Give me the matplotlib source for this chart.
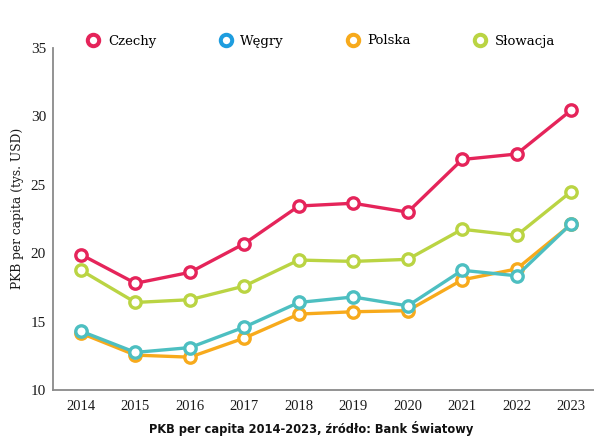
import matplotlib
matplotlib.use("Agg")
import matplotlib.pyplot as plt
from matplotlib.lines import Line2D
from matplotlib import font_manager
from matplotlib.font_manager import FontProperties

years = [2014, 2015, 2016, 2017, 2018, 2019, 2020, 2021, 2022, 2023]
czechy = [19.9, 17.8, 18.6, 20.7, 23.45, 23.65, 23.0, 26.85, 27.25, 30.45]
wegry = [14.3, 12.75, 13.1, 14.6, 16.4, 16.8, 16.15, 18.75, 18.35, 22.15]
polska = [14.15, 12.55, 12.4, 13.8, 15.55, 15.72, 15.8, 18.05, 18.85, 22.1]
slowacja = [18.75, 16.4, 16.6, 17.6, 19.5, 19.4, 19.55, 21.75, 21.3, 24.5]
yticks = [10, 15, 20, 25, 30, 35]
labels = ["Czechy", "Węgry", "Polska", "Słowacja"]
title = "PKB per capita 2014-2023, źródło: Bank Światowy"

c_cz = "#e5245a"
c_hu_line = "#4dbfc1"
c_hu_leg = "#1e9ddf"
c_pl = "#f7aa1c"
c_sk = "#bad443"

# pick the most condensed bold sans available for the caption
stretch_rank = {"ultra-condensed": 0, "extra-condensed": 1, "condensed": 2, "semi-condensed": 3}
best = None
for f in font_manager.fontManager.ttflist:
    st = f.stretch if isinstance(f.stretch, str) else ""
    nm = f.name.lower()
    fn = f.fname.lower()
    rank = stretch_rank.get(st, None)
    if rank is None:
        if "extracondensed" in fn or "extra condensed" in nm:
            rank = 1
        elif "semicondensed" in fn or "semi condensed" in nm:
            rank = 3
        elif "condensed" in fn or "narrow" in fn or "condensed" in nm or "narrow" in nm:
            rank = 2
    if rank is None:
        continue
    w = f.weight if isinstance(f.weight, int) else (700 if "bold" in str(f.weight) else 400)
    if "bold" in fn and "semibold" not in fn and "extrabold" not in fn:
        w = 700
    if w < 600 or w > 800 or f.style != "normal" or "mono" in fn or "serif" in nm:
        continue
    key = (rank, abs(w - 700))
    if best is None or key < best[0]:
        best = (key, f.fname)
if best is not None:
    title_fp = FontProperties(fname=best[1], size=11)
else:
    title_fp = FontProperties(family="DejaVu Sans", weight="bold", stretch="condensed", size=10.5)

fig = plt.figure(figsize=(5.94, 4.36), dpi=100)
ax = fig.add_axes([53/594, 1-390/436, 1-53/594, (390-48)/436])

lw = 2.4
ms = 8.2
mew = 2.4
series = [(polska, c_pl), (wegry, c_hu_line), (slowacja, c_sk), (czechy, c_cz)]
for vals, col in series:
    ax.plot(years, vals, color=col, lw=lw, marker="o", ms=ms, mew=mew,
            mfc="white", mec=col, solid_capstyle="round")

ax.set_xlim(2013.486, 2023.42)
ax.set_ylim(10, 35)
ax.set_xticks(years)
ax.set_yticks(yticks)
ax.set_xticklabels([str(y) for y in years], family="Liberation Serif", fontsize=10.5, color="#1a1a1a")
ax.set_yticklabels([str(y) for y in yticks], family="Liberation Serif", fontsize=11, color="#1a1a1a")
ax.tick_params(axis="both", length=0)
ax.tick_params(axis="x", pad=7)
ax.tick_params(axis="y", pad=5)
for s in ["top", "right"]:
    ax.spines[s].set_visible(False)
for s in ["left", "bottom"]:
    ax.spines[s].set_color("#8a8a8a")
    ax.spines[s].set_linewidth(1.3)

fig.text(18/594, 1-208/436, "PKB per capita (tys. USD)", rotation=90,
         ha="center", va="center", family="DejaVu Serif", fontsize=8.8, color="#1a1a1a")

handles = [
    Line2D([], [], ls="none", marker="o", ms=ms, mew=mew + 0.5, mfc="white", mec=c)
    for c in [c_cz, c_hu_leg, c_pl, c_sk]
]
fig.legend(handles, labels, loc="center left", bbox_to_anchor=(75/594, 1-41/436),
           ncol=4, frameon=False, handlelength=1.0, handletextpad=0.6,
           columnspacing=4.75, prop={"family": "DejaVu Serif", "size": 9.5})

t = fig.text(311/594, 1-428/436, title, ha="center", va="center",
             fontproperties=title_fp, color="#111111")
if best is None:
    t.set_fontweight("bold")

# fit caption width to ~300 px, keeping it legible
fig.canvas.draw()
r = fig.canvas.get_renderer()
wpx = t.get_window_extent(r).width
if wpx > 0:
    newsize = title_fp.get_size() * 300.0 / wpx
    t.set_fontsize(max(9.2, min(12, newsize)))

fig.savefig("out.png", dpi=100)
